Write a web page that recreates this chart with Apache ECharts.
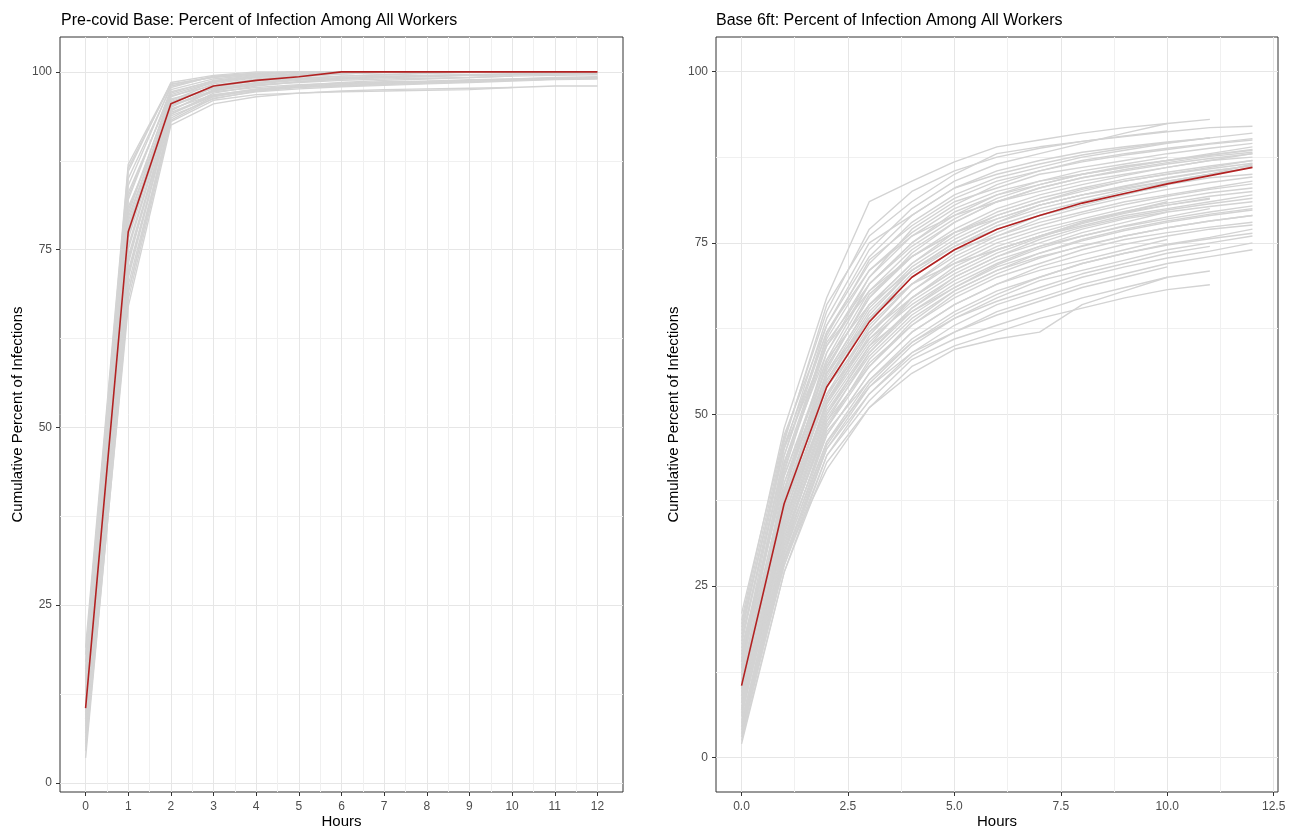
<!DOCTYPE html>
<html>
<head>
<meta charset="utf-8">
<title>Percent of Infection Among All Workers</title>
<script src="https://cdn.jsdelivr.net/npm/echarts@6/dist/echarts.min.js"></script>
<style>
  html, body { margin: 0; padding: 0; background: #fff; }
  #chart { width: 1295px; height: 831px; }
</style>
</head>
<body>
<div id="chart"></div>
<script>
const hours = [0, 1, 2, 3, 4, 5, 6, 7, 8, 9, 10, 11, 12];

/* Pre-covid Base: simulated runs (grey) and the average (red) */
const precovidRuns = [
  [3.5, 68, 93, 96, 96.8, 97, 97.2, 97.3, 97.4, 97.5, 97.8, 98, 98],
  [5, 70, 93.5, 96.5, 97.5, 98, 98.3, 98.5, 98.7, 98.8, 99, 99.2, 99.3],
  [6.5, 72, 94, 97, 98, 98.6, 99, 99.2, 99.3, 99.5, 99.6, 99.8, 100],
  [8, 74, 94.5, 97.5, 98.5, 99, 99.4, 99.6, 99.8, 100, 100, 100, 100],
  [9, 75, 95, 97.8, 98.8, 99.3, 99.7, 100, 100, 100, 100, 100, 100],
  [10, 76.5, 95.5, 98, 99, 99.5, 100, 100, 100, 100, 100, 100, 100],
  [11, 78, 96, 98.3, 99.2, 99.6, 100, 100, 100, 100, 100, 100, 100],
  [12, 79, 96.5, 98.5, 99.3, 99.7, 100, 100, 100, 100, 100, 100, 100],
  [13, 80, 97, 98.8, 99.5, 100, 100, 100, 100, 100, 100, 100, 100],
  [14, 82, 97.5, 99, 99.6, 100, 100, 100, 100, 100, 100, 100, 100],
  [15.5, 84, 98, 99.3, 99.8, 100, 100, 100, 100, 100, 100, 100, 100],
  [17, 86, 98.5, 99.5, 100, 100, 100, 100, 100, 100, 100, 100, 100],
  [19, 87, 98.3, 99.2, 99.7, 100, 100, 100, 100, 100, 100, 100, 100],
  [7, 73, 95.2, 97.2, 97.8, 98.2, 98.4, 98.6, 98.7, 98.9, 99, 99.1, 99.1],
  [9.5, 77, 96.2, 97.6, 98.2, 98.5, 98.8, 99, 99.1, 99.2, 99.4],
  [12.5, 81, 94.8, 96.8, 97.5, 97.9, 98.1, 98.3, 98.5, 98.6, 98.8, 99],
  [4.5, 67, 92.5, 95.5, 96.5, 97, 97.3, 97.5, 97.6, 97.7, 97.8],
  [16, 85, 97.8, 99.4, 99.8, 100, 100, 100, 100, 100, 100, 100, 100],
  [11.5, 83, 96.8, 98.6, 99.3, 99.6, 99.8, 99.9, 100, 100, 100, 100, 100],
  [8.5, 69, 93.8, 96.2, 97.3, 97.8, 98, 98.2, 98.4, 98.6, 98.8, 99, 99.2],
  [6, 71, 94.3, 96.7, 97.6, 98.1, 98.5, 98.8, 99, 99.2, 99.4, 99.5, 99.6],
  [14.5, 79.5, 95.8, 97.9, 98.7, 99.1, 99.4, 99.6, 99.8, 99.9, 100, 100, 100],
  [5.5, 69, 93.2, 96.3, 97.2, 97.6, 97.9, 98.1, 98.3, 98.5, 98.7, 98.9, 99],
  [7.5, 71.5, 94.6, 97.3, 98.3, 98.8, 99.1, 99.3, 99.5, 99.6, 99.7, 99.8, 99.9],
  [10.5, 75.5, 95.3, 97.4, 98.1, 98.6, 99, 99.2, 99.4, 99.5, 99.6, 99.7, 99.8],
  [13.5, 80.5, 96.6, 98.1, 98.9, 99.4, 99.7, 99.9, 100, 100, 100, 100, 100],
  [15, 82.5, 97.2, 98.7, 99.4, 99.8, 100, 100, 100, 100, 100, 100, 100],
  [18, 86.5, 98.2, 99.3, 99.7, 100, 100, 100, 100, 100, 100, 100, 100],
  [12, 78.5, 95.7, 97.7, 98.4, 98.9, 99.2, 99.4, 99.5, 99.6, 99.7, 99.7, 99.8],
  [9, 73.5, 94.1, 96.6, 97.4, 97.9, 98.2, 98.4, 98.6, 98.7, 98.9, 99, 99.1],
];
const precovidMean = [10.5, 77.5, 95.5, 98, 98.8, 99.3, 100, 100, 100, 100, 100, 100, 100];

/* Base 6ft: simulated runs (grey) and the average (red) */
const base6ftRuns = [
  [20, 48, 67, 81, 84, 86.8, 89, 90, 91, 91.8, 92.4, 93],
  [18, 46, 66, 76, 81, 85, 88, 89, 89.8, 90.5, 91.2, 91.8, 92],
  [21, 47, 63, 74, 80, 84, 86.5, 88, 89.5, 91, 92.4],
  [15, 44, 62, 72, 78, 82, 84.5, 86, 87.5, 88.5, 89.5, 90.3, 91],
  [17, 45, 64, 75, 79, 83, 85, 86.5, 87.8, 88.8, 89.6, 90.3],
  [13, 42, 60, 70, 77, 81, 83, 85, 86, 87, 88, 88.8, 89.5],
  [12, 40, 58, 69, 75, 79, 82, 84, 85, 86.2, 87, 87.8, 88.5],
  [14, 43, 61, 71, 76, 80, 82.5, 84, 85.5, 86.5, 87.5],
  [11, 39, 57, 67, 73, 77, 80, 82, 83.5, 84.8, 86, 87, 88],
  [9, 38, 56, 66, 72, 76, 79, 81, 82.5, 84, 85, 86, 87],
  [10, 36, 55, 65, 71, 75, 78, 80, 81.5, 82.8, 84, 85],
  [8, 35, 53, 63, 69, 73.5, 76.5, 79, 80.5, 82, 83.5, 84.5, 85],
  [12.5, 38, 55, 64, 70, 74, 76, 78, 79.5, 81, 82, 83, 84],
  [7, 34, 52, 62, 68, 72, 75, 77, 78.5, 80, 81.3, 82.3, 83],
  [11, 37, 54, 62, 67, 71, 74, 76, 78, 79.5, 81],
  [6, 33, 50, 60, 67, 71, 74, 76, 77.5, 79, 80, 81, 82],
  [9.5, 36, 53, 61, 66, 70, 73, 75, 77, 78.5, 79.5, 80.3, 81],
  [5, 31, 49, 59, 65, 69, 72, 74.5, 76, 77.5, 78.8, 80],
  [8.5, 34, 51, 60, 65, 68.5, 71.5, 73.5, 75.5, 77, 78.2, 79.2, 80],
  [4, 30, 48, 58, 64, 68, 71, 73, 74.5, 76, 77.2, 78.2, 79],
  [7.5, 32, 49, 57, 63, 67, 70, 72, 74, 75.5, 76.5, 77.3, 78],
  [6.5, 31, 47, 56, 62, 66, 69, 71, 72.5, 74, 75.5],
  [3, 29, 46, 55, 61, 65, 68, 70, 72, 73.5, 74.8, 75.8, 77],
  [5.5, 28, 45, 54, 60, 64, 67, 69.5, 71, 72.5, 74, 75, 76],
  [2, 27, 44, 53, 59, 63, 66, 68, 70, 71.5, 72.8, 73.8, 75],
  [4.5, 30, 46, 54, 59, 62, 65, 67, 69, 70.5, 72, 73, 74],
  [3.5, 28, 44, 52, 58, 61, 63, 65, 67, 68.5, 70, 70.9],
  [2.5, 27, 43, 51, 57, 60, 62, 64, 65.5, 67, 68.2, 68.9],
  [5, 29, 42, 51, 56, 59.5, 61, 62, 66, 68, 70],
  [10, 39, 59, 70, 76, 79, 81, 82.5, 84, 85, 86, 87, 87.5],
  [14, 41, 58, 66, 71, 74.5, 77.5, 79.5, 81, 82.5, 83.8, 85, 86],
  [16, 40, 56, 64, 69, 72, 74, 76, 78, 79.5, 80.5, 81.5],
  [19, 45, 60, 68, 73, 76.5, 78.5, 80.5, 82, 83, 84, 85, 86.5],
  [8, 33, 50, 59, 65.5, 69.5, 72.5, 74.5, 76.5, 78, 79.5],
  [17.5, 43, 59, 69, 75, 79.5, 82, 83.5, 85, 86, 87, 88, 89],
  [15.5, 41, 57, 67, 73.5, 78, 81, 83, 84.5, 85.5, 86.5, 87.3, 88],
  [13.5, 39, 56, 66, 72, 76.5, 79.5, 81.5, 83, 84.3, 85.3, 86.2, 87],
  [12, 37.5, 54.5, 64.5, 71, 75, 78, 80.5, 82, 83.2, 84.4, 85.4, 86.3],
  [11.5, 36.5, 52.5, 62.5, 69, 73, 76, 78.5, 80.2, 81.6, 82.8, 83.8, 84.6],
  [10.5, 35.5, 51.5, 61.5, 68, 72.5, 75.5, 77.5, 79.2, 80.6, 81.8, 82.8, 83.6],
  [9, 34.5, 52, 61, 67, 71.5, 74.5, 76.5, 78.2, 79.6, 80.8, 81.8, 82.5],
  [7, 33.5, 50.5, 59.5, 65.5, 70, 73, 75.5, 77.3, 78.7, 79.8, 80.7, 81.5],
  [6, 32.5, 49.5, 58.5, 64.5, 68.5, 71.8, 74.2, 76, 77.4, 78.5, 79.5, 80.4],
  [5, 31.5, 48.5, 57.5, 63, 67.5, 70.5, 72.8, 74.6, 76, 77.2, 78.2, 79],
  [4, 29.5, 47, 56, 62, 66, 69, 71.5, 73.3, 74.8, 76, 77, 77.6],
  [3, 28.5, 45.5, 54.5, 60.5, 64.5, 67.5, 70, 72, 73.5, 74.7, 75.6, 76.4],
  [16.5, 44, 63, 73, 79, 83, 85.5, 87, 88.2, 89, 89.7, 90.3],
  [19.5, 46.5, 65, 77, 82.5, 85.5, 87.5, 88.8, 89.8, 90.6, 91.3],
  [13, 41.5, 61.5, 72.5, 77.5, 81.5, 84, 85.5, 86.8, 87.8, 88.6, 89.4, 90],
  [11, 38.5, 57.5, 68, 74, 78, 81, 83, 84.5, 85.7, 86.7, 87.6, 88.2],
  [10, 37, 55.5, 65.5, 71.5, 75.5, 78.5, 80.5, 82, 83.3, 84.5, 85.5, 86.2],
  [8.5, 35, 54, 64, 70.5, 74.5, 77, 79, 80.8, 82.2, 83.3],
  [7, 34, 51.5, 60.5, 66.5, 70.5, 73.5, 75.8, 77.8, 79.3, 80.5, 81.4],
  [6.5, 32, 48, 57, 63.5, 68, 71, 73.5, 75.3, 76.8, 78, 79, 79.8],
  [4.5, 30.5, 47.5, 55, 60.5, 64, 66.5, 68.5, 70.5, 72, 73.5, 74.5],
  [3.5, 29, 45, 53, 58.5, 62, 64.5, 66.5, 68.5, 70, 71.5],
  [18.5, 45.5, 62, 71, 76.5, 80.5, 83.5, 85.5, 87, 88, 88.8, 89.5, 90.2],
  [14.5, 42.5, 60.5, 69, 74.5, 78.5, 81.5, 83.5, 85, 86, 87, 87.8, 88.6],
  [9.5, 36, 56.5, 67.5, 73, 76.5, 79, 81, 82.8, 84, 85, 85.8, 86.6],
];
const base6ftMean = [10.5, 37, 54, 63.5, 70, 74, 77, 79, 80.8, 82.2, 83.6, 84.8, 86];

const base6ftTicks = [0, 2.5, 5, 7.5, 10, 12.5];

const FONT = '"Liberation Sans", Arial, sans-serif';
const GRID_MAJOR = '#e6e6e6';
const GRID_MINOR = '#f0f0f0';

const toPoints = (values) => values.map((v, i) => [hours[i], v]);

/* axis that only carries the frame and axis title */
const frameAxis = (range, name, gap) => ({
  min: range[0],
  max: range[1],
  name,
  nameLocation: 'middle',
  nameGap: gap,
  nameTextStyle: { color: '#000', fontSize: 15, fontFamily: FONT },
  axisLine: { show: false },
  axisTick: { show: false },
  axisLabel: { show: false },
  splitLine: { show: false },
});

/* axis that draws ticks, labels and grid lines */
const tickAxis = (min, max, interval, gridIndex, margin, formatter) => ({
  type: 'value',
  gridIndex,
  min,
  max,
  interval,
  axisLine: { show: false },
  axisTick: { show: true, length: 4, lineStyle: { color: '#333', width: 1 } },
  axisLabel: {
    color: '#4d4d4d', fontSize: 12, fontFamily: FONT, margin,
    formatter: formatter || ((v) => `${v}`),
  },
  splitLine: { show: true, lineStyle: { color: GRID_MAJOR, width: 1 } },
  minorTick: { show: false, splitNumber: 2 },
  minorSplitLine: { show: true, lineStyle: { color: GRID_MINOR, width: 1 } },
});

const hidden = (gridIndex) => ({ type: 'value', gridIndex, show: false, min: 0, max: 1 });

/* fixed-position grid, no automatic shrinking for labels */
const panel = (left, top, width, height, frame) => ({
  left, top, width, height,
  containLabel: false,
  outerBoundsMode: 'none',
  show: !!frame,
  borderColor: '#333',
  borderWidth: 1,
  backgroundColor: 'transparent',
});

const runSeries = (runs, axisIndex) => runs.map((run) => ({
  type: 'line',
  xAxisIndex: axisIndex,
  yAxisIndex: axisIndex,
  data: toPoints(run),
  showSymbol: false,
  symbol: 'none',
  silent: true,
  z: 2,
  lineStyle: { color: '#d3d3d3', width: 1.4 },
}));

const meanSeries = (values, axisIndex) => ({
  type: 'line',
  xAxisIndex: axisIndex,
  yAxisIndex: axisIndex,
  data: toPoints(values),
  showSymbol: false,
  symbol: 'none',
  silent: true,
  z: 3,
  lineStyle: { color: '#b22222', width: 1.6 },
});

const chart = echarts.init(document.getElementById('chart'), null, { renderer: 'canvas' });

chart.setOption({
  animation: false,
  backgroundColor: '#fff',
  title: [
    {
      text: 'Pre-covid Base: Percent of Infection Among All Workers',
      left: 56, top: 8,
      textStyle: { color: '#000', fontSize: 16, fontWeight: 'normal', fontFamily: FONT },
    },
    {
      text: 'Base 6ft: Percent of Infection Among All Workers',
      left: 711, top: 8,
      textStyle: { color: '#000', fontSize: 16, fontWeight: 'normal', fontFamily: FONT },
    },
  ],
  grid: [
    /* left panel: frame + data, x ticks, y ticks */
    panel(60, 37, 563, 755, true),
    panel(85.6, 37, 511.8, 755),
    panel(60, 71.9, 563, 710.9),
    /* right panel: frame + data, x ticks, y ticks */
    panel(716, 37, 562, 755, true),
    panel(741.5, 37, 532.2, 755),
    panel(716, 71.3, 562, 686.4),
  ],
  xAxis: [
    { type: 'value', gridIndex: 0, ...frameAxis([-0.6, 12.6], 'Hours', 22) },
    tickAxis(0, 12, 1, 1, 9),
    hidden(2),
    { type: 'value', gridIndex: 3, ...frameAxis([-0.6, 12.6], 'Hours', 22) },
    tickAxis(base6ftTicks[0], base6ftTicks[base6ftTicks.length - 1], 2.5, 4, 9, (v) => v.toFixed(1)),
    hidden(5),
  ],
  yAxis: [
    { type: 'value', gridIndex: 0, ...frameAxis([-1.3, 104.9], 'Cumulative Percent of Infections', 35) },
    hidden(1),
    tickAxis(0, 100, 25, 2, 8),
    { type: 'value', gridIndex: 3, ...frameAxis([-5, 105], 'Cumulative Percent of Infections', 35) },
    hidden(4),
    tickAxis(0, 100, 25, 5, 8),
  ],
  series: [
    ...runSeries(precovidRuns, 0),
    meanSeries(precovidMean, 0),
    ...runSeries(base6ftRuns, 3),
    meanSeries(base6ftMean, 3),
  ],
});

window.addEventListener('resize', () => chart.resize());
</script>
</body>
</html>
